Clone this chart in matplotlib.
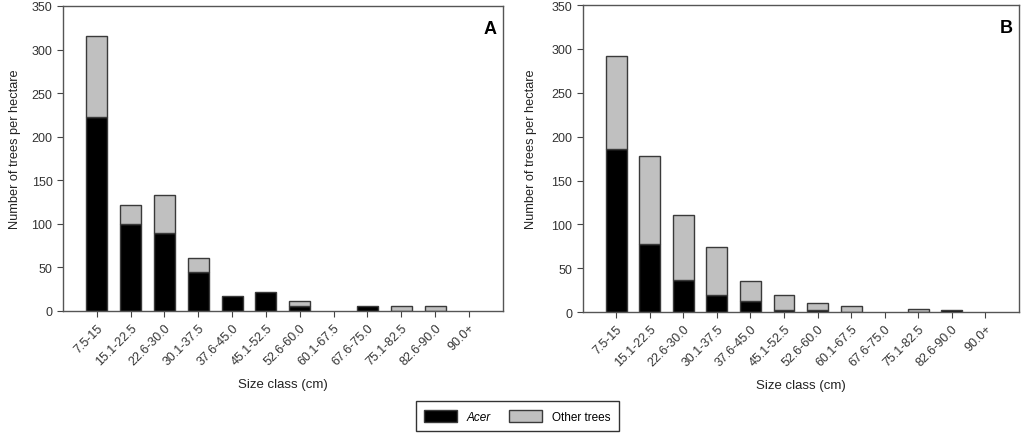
import numpy as np
import matplotlib
matplotlib.use("Agg")
import matplotlib.pyplot as plt

plt.rcParams['font.family'] = ['Liberation Sans', 'DejaVu Sans']

size_classes = ["7.5-15", "15.1-22.5", "22.6-30.0", "30.1-37.5", "37.6-45.0",
                "45.1-52.5", "52.6-60.0", "60.1-67.5", "67.6-75.0", "75.1-82.5",
                "82.6-90.0", "90.0+"]

# panel A
acer_a = [222, 100, 89, 45, 17, 22, 6, 0, 6, 0, 0, 0]
other_a = [93, 22, 44, 16, 0, 0, 5.5, 0, 0, 6, 6, 0]

# panel B
acer_b = [186, 78, 37, 20, 13, 2.5, 2.5, 0, 0, 0, 2, 0]
other_b = [106, 100, 74, 54, 22, 17, 8.5, 7.5, 0, 4, 0, 0]

grey = '#c0c0c0'
edge = '#3a3a3a'

fig = plt.figure(figsize=(10.24, 4.35), dpi=100)
ax_a = fig.add_axes([0.0615, 0.283, 0.4295, 0.701])
ax_b = fig.add_axes([0.569, 0.280, 0.426, 0.706])

x = np.arange(len(size_classes))


def draw(ax, acer, other, letter, ylab_x):
    acer = np.array(acer, dtype=float)
    other = np.array(other, dtype=float)
    h1 = ax.bar(x, acer, width=0.62, color='black', edgecolor=edge, linewidth=1)
    h2 = ax.bar(x, other, bottom=acer, width=0.62, color=grey, edgecolor=edge, linewidth=1)
    # hide zero-height bars
    for rect, v in zip(h1, acer):
        if v == 0:
            rect.set_visible(False)
    for rect, v in zip(h2, other):
        if v == 0:
            rect.set_visible(False)
    ax.set_xlim(-1, 12)
    ax.set_ylim(0, 350)
    ax.set_yticks(np.arange(0, 351, 50))
    ax.set_xticks(x)
    ax.set_xticklabels(size_classes, rotation=45, ha='right', rotation_mode='anchor', fontsize=9)
    ax.tick_params(axis='y', labelsize=9, length=4, color='#444444', labelcolor='#333333')
    ax.tick_params(axis='x', length=4, color='#444444', labelcolor='#333333')
    for s in ax.spines.values():
        s.set_color('#555555')
        s.set_linewidth(1)
    ax.set_xlabel("Size class (cm)", fontsize=9.5, labelpad=8, color='#222222')
    ax.set_ylabel("Number of trees per hectare", fontsize=9.2, color='#222222')
    ax.yaxis.set_label_coords(ylab_x, 0.535)
    ax.text(0.985, 0.955, letter, transform=ax.transAxes, ha='right', va='top',
            fontsize=13, fontweight='bold')
    return h1, h2


h1, h2 = draw(ax_a, acer_a, other_a, "A", -0.096)
draw(ax_b, acer_b, other_b, "B", -0.105)

leg = fig.legend([h1[0], h2[0]], ["Acer", "Other trees"], loc='center',
                 bbox_to_anchor=(0.505, 0.041), ncol=2, fontsize=8.5,
                 fancybox=False, edgecolor='#333333', framealpha=1,
                 handlelength=2.8, handleheight=1.2, columnspacing=1.6,
                 borderpad=0.7)
leg.get_frame().set_linewidth(1)
leg.get_texts()[0].set_fontstyle('italic')

fig.savefig("out.png", dpi=100)
